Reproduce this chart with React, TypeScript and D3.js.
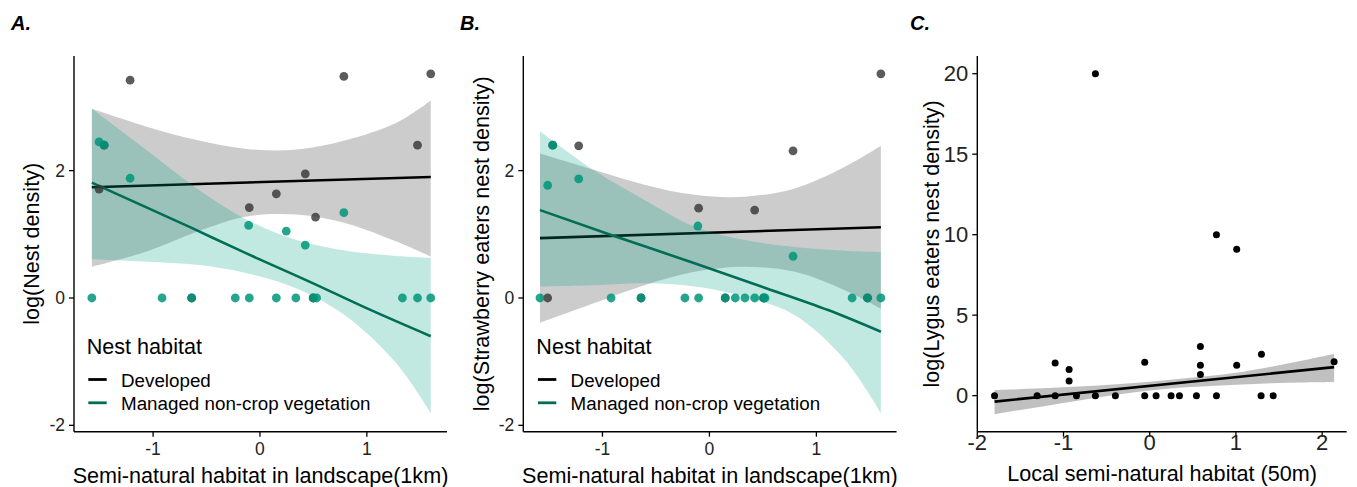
import React from "react";
import * as d3 from "d3";

type Pt = [number, number];
type Band = [number, number, number]; // x, lower, upper

// ---- Panel A: log(Nest density) ----
const devPointsA: Pt[] = [
  [-1.505, 1.71], [-1.458, 2.4], [-1.215, 3.42], [-0.639, 0], [-0.1, 1.42], [0.153, 1.635],
  [0.424, 1.95], [0.498, 0], [0.52, 1.27], [0.785, 3.48], [1.474, 2.4], [1.598, 3.52],
];
const manPointsA: Pt[] = [
  [-1.573, 0], [-1.505, 2.45], [-1.458, 2.4], [-1.215, 1.88], [-0.916, 0], [-0.639, 0],
  [-0.231, 0], [-0.106, 1.14], [-0.1, 0], [0.153, 0], [0.246, 1.05], [0.336, 0], [0.424, 0.83],
  [0.498, 0], [0.53, 0], [0.785, 1.34], [1.333, 0], [1.474, 0], [1.598, 0],
];
const devFitA: Pt[] = [[-1.573, 1.74], [1.598, 1.9]];
const manFitA: Pt[] = [[-1.573, 1.81], [-0.639, 1.1], [-0.218, 0.77], [0.498, 0.23], [0.997, -0.16], [1.598, -0.6]];
const devBandA: Band[] = [
  [-1.573, 0.49, 2.97], [-1.06, 0.73, 2.69], [-0.59, 1.04, 2.48], [-0.125, 1.28, 2.34],
  [0.343, 1.31, 2.33], [0.81, 1.17, 2.48], [1.277, 0.885, 2.75], [1.598, 0.65, 3.1],
];
const manBandA: Band[] = [
  [-1.573, 0.61, 2.97], [-1.06, 0.57, 2.32], [-0.59, 0.52, 1.72], [-0.125, 0.39, 1.23],
  [0.343, 0.15, 0.91], [0.81, -0.29, 0.74], [1.277, -1.03, 0.66], [1.598, -1.81, 0.63],
];

// ---- Panel B: log(Strawberry eaters nest density) ----
const devPointsB: Pt[] = [
  [-1.512, 0], [-1.465, 2.4], [-1.222, 2.39], [-0.639, 0], [-0.101, 1.41], [0.148, 0],
  [0.423, 1.38], [0.507, 0], [0.782, 2.31], [1.478, 0], [1.603, 3.52],
];
const manPointsB: Pt[] = [
  [-1.584, 0], [-1.512, 1.77], [-1.465, 2.4], [-1.222, 1.87], [-0.919, 0], [-0.639, 0],
  [-0.229, 0], [-0.108, 1.13], [-0.101, 0], [0.148, 0], [0.242, 0], [0.332, 0], [0.423, 0],
  [0.507, 0], [0.52, 0], [0.782, 0.655], [1.334, 0], [1.478, 0], [1.603, 0],
];
const devFitB: Pt[] = [[-1.584, 0.94], [1.603, 1.11]];
const manFitB: Pt[] = [[-1.584, 1.38], [-0.919, 0.99], [-0.139, 0.545], [0.485, 0.18], [1.11, -0.19], [1.603, -0.53]];
const devBandB: Band[] = [
  [-1.584, -0.39, 2.27], [-1.075, -0.08, 2.01], [-0.607, 0.2, 1.78], [-0.139, 0.41, 1.62],
  [0.33, 0.49, 1.59], [0.798, 0.41, 1.72], [1.266, 0.12, 2.06], [1.603, -0.17, 2.39],
];
const manBandB: Band[] = [
  [-1.584, 0.18, 2.62], [-1.075, 0.2, 2.0], [-0.607, 0.23, 1.54], [-0.139, 0.18, 1.12],
  [0.33, 0.02, 0.91], [0.798, -0.27, 0.8], [1.266, -0.97, 0.74], [1.603, -1.81, 0.72],
];

// ---- Panel C: log(Lygus eaters nest density) ----
const pointsC: Pt[] = [
  [-0.63, 20.0], [0.774, 9.99], [1.009, 9.1], [0.588, 3.05], [1.296, 2.57], [-1.097, 2.03],
  [-0.058, 2.08], [0.588, 1.89], [1.009, 1.89], [2.139, 2.1], [-0.935, 1.62], [-0.935, 0.91],
  [0.588, 1.31], [-1.8, 0], [-1.306, 0], [-1.097, 0], [-0.85, 0], [-0.63, 0], [-0.398, 0],
  [-0.058, 0], [0.074, 0], [0.248, 0], [0.345, 0], [0.542, 0], [0.774, 0], [1.292, 0], [1.432, 0],
];
const fitC: Pt[] = [[-1.8, -0.37], [2.139, 1.77]];
const bandC: Band[] = [
  [-1.8, -1.16, 0.35], [-1.0, -0.45, 0.52], [-0.3, 0.12, 0.74], [0.3, 0.47, 1.02],
  [1.0, 0.68, 1.42], [1.6, 0.8, 2.0], [2.139, 0.85, 2.59],
];

const ticksXAB = [-1, 0, 1];
const ticksYAB = [-2, 0, 2];
const ticksXC = [-2, -1, 0, 1, 2];
const ticksYC = [0, 5, 10, 15, 20];

const legendItems = ["Developed", "Managed non-crop vegetation"];

const FONT = "'Liberation Sans', Arial, sans-serif";
const TEAL_LINE = "#006e55";
const TEAL_PT = "#00957a";
const TEAL_FILL = "#00a087";

type Series = {
  points: Pt[];
  fit: Pt[];
  band: Band[];
  ptFill: string;
  ptOpacity: number;
  r: number;
  lineColor: string;
  bandFill: string;
  bandOpacity: number;
};

type PanelProps = {
  left: number;
  right: number;
  xDomain: [number, number];
  yDomain: [number, number];
  xTicks: number[];
  yTicks: number[];
  tickFont: number;
  tickLabelY: number;
  letter: string;
  letterX: number;
  xTitle: string;
  xTitleY: number;
  yTitle: string;
  yTitleX: number;
  series: Series[];
  legendX?: number;
};

const TOP = 56;
const BOTTOM = 431.7;

function Panel(p: PanelProps) {
  const x = d3.scaleLinear().domain(p.xDomain).range([p.left, p.right]);
  const y = d3.scaleLinear().domain(p.yDomain).range([BOTTOM, TOP]);
  const area = d3
    .area<Band>()
    .x((d) => x(d[0]))
    .y0((d) => y(d[1]))
    .y1((d) => y(d[2]))
    .curve(d3.curveCatmullRom);
  const line = d3
    .line<Pt>()
    .x((d) => x(d[0]))
    .y((d) => y(d[1]))
    .curve(d3.curveMonotoneX);

  return (
    <g>
      <text x={p.letterX} y={22.7} dominantBaseline="central" fontSize={20} fontWeight="bold" fontStyle="italic" fontFamily={FONT}>
        {p.letter}
      </text>
      {p.series.map((s, i) => (
        <g key={"s" + i}>
          <path d={area(s.band) || ""} fill={s.bandFill} fillOpacity={s.bandOpacity} />
          <path d={line(s.fit) || ""} fill="none" stroke={s.lineColor} strokeWidth={2.6} />
        </g>
      ))}
      {p.series.map((s, i) => (
        <g key={"p" + i}>
          {s.points.map((d, j) => (
            <circle key={j} cx={x(d[0])} cy={y(d[1])} r={s.r} fill={s.ptFill} fillOpacity={s.ptOpacity} />
          ))}
        </g>
      ))}
      {/* axes */}
      <line x1={p.left} x2={p.left} y1={TOP} y2={BOTTOM} stroke="#000" strokeWidth={1.4} />
      <line x1={p.left} x2={p.right} y1={BOTTOM} y2={BOTTOM} stroke="#000" strokeWidth={1.4} />
      {p.xTicks.map((t) => (
        <g key={"xt" + t}>
          <line x1={x(t)} x2={x(t)} y1={BOTTOM} y2={BOTTOM + 5} stroke="#000" strokeWidth={1.3} />
          <text x={x(t)} y={p.tickLabelY} textAnchor="middle" dominantBaseline="central" fontSize={p.tickFont} fontFamily={FONT} fill="#222">
            {t}
          </text>
        </g>
      ))}
      {p.yTicks.map((t) => (
        <g key={"yt" + t}>
          <line x1={p.left - 5} x2={p.left} y1={y(t)} y2={y(t)} stroke="#000" strokeWidth={1.3} />
          <text x={p.left - 9} y={y(t)} textAnchor="end" dominantBaseline="central" fontSize={p.tickFont} fontFamily={FONT} fill="#222">
            {t}
          </text>
        </g>
      ))}
      <text x={(p.left + p.right) / 2} y={p.xTitleY} textAnchor="middle" dominantBaseline="central" fontSize={21.6} fontFamily={FONT}>
        {p.xTitle}
      </text>
      <text
        transform={`translate(${p.yTitleX},${(TOP + BOTTOM) / 2}) rotate(-90)`}
        textAnchor="middle"
        dominantBaseline="central"
        fontSize={21.6}
        fontFamily={FONT}
      >
        {p.yTitle}
      </text>
      {p.legendX !== undefined && (
        <g transform={`translate(${p.legendX},0)`}>
          <text x={0} y={346.7} dominantBaseline="central" fontSize={21.6} fontFamily={FONT}>
            Nest habitat
          </text>
          {legendItems.map((lab, i) => (
            <g key={lab}>
              <line x1={1.6} x2={20} y1={379.5 + i * 23.3} y2={379.5 + i * 23.3} stroke={i === 0 ? "#000" : TEAL_LINE} strokeWidth={2.8} />
              <text x={34.3} y={380 + i * 23.3} dominantBaseline="central" fontSize={18.8} fontFamily={FONT}>
                {lab}
              </text>
            </g>
          ))}
        </g>
      )}
    </g>
  );
}

function habitatSeries(points: [Pt[], Pt[]], fits: [Pt[], Pt[]], bands: [Band[], Band[]]): Series[] {
  return [
    { points: points[0], fit: fits[0], band: bands[0], ptFill: "#333", ptOpacity: 0.8, r: 4.4, lineColor: "#000", bandFill: "#000", bandOpacity: 0.2 },
    { points: points[1], fit: fits[1], band: bands[1], ptFill: TEAL_PT, ptOpacity: 0.85, r: 4.4, lineColor: TEAL_LINE, bandFill: TEAL_FILL, bandOpacity: 0.24 },
  ];
}

export default function App() {
  return (
    <svg width={1357} height={487} style={{ position: "absolute", left: 0, top: 0, background: "#fff" }}>
      <Panel
        left={74}
        right={447}
        xDomain={[-1.74, 1.75]}
        yDomain={[-2.1, 3.8]}
        xTicks={ticksXAB}
        yTicks={ticksYAB}
        tickFont={17.5}
        tickLabelY={449.3}
        letter="A."
        letterX={11}
        xTitle="Semi-natural habitat in landscape(1km)"
        xTitleY={475}
        yTitle="log(Nest density)"
        yTitleX={31.7}
        series={habitatSeries([devPointsA, manPointsA], [devFitA, manFitA], [devBandA, manBandA])}
        legendX={86.7}
      />
      <Panel
        left={523.3}
        right={896.6}
        xDomain={[-1.74, 1.75]}
        yDomain={[-2.1, 3.8]}
        xTicks={ticksXAB}
        yTicks={ticksYAB}
        tickFont={17.5}
        tickLabelY={449.3}
        letter="B."
        letterX={460}
        xTitle="Semi-natural habitat in landscape(1km)"
        xTitleY={475}
        yTitle="log(Strawberry eaters nest density)"
        yTitleX={481.7}
        series={habitatSeries([devPointsB, manPointsB], [devFitB, manFitB], [devBandB, manBandB])}
        legendX={536.3}
      />
      <Panel
        left={977.3}
        right={1346.7}
        xDomain={[-2.0, 2.285]}
        yDomain={[-2.24, 21.1]}
        xTicks={ticksXC}
        yTicks={ticksYC}
        tickFont={22}
        tickLabelY={442.5}
        letter="C."
        letterX={910}
        xTitle="Local semi-natural habitat (50m)"
        xTitleY={473.3}
        yTitle="log(Lygus eaters nest density)"
        yTitleX={931.5}
        series={[
          { points: pointsC, fit: fitC, band: bandC, ptFill: "#000", ptOpacity: 1, r: 3.5, lineColor: "#000", bandFill: "#999", bandOpacity: 0.62 },
        ]}
      />
    </svg>
  );
}
